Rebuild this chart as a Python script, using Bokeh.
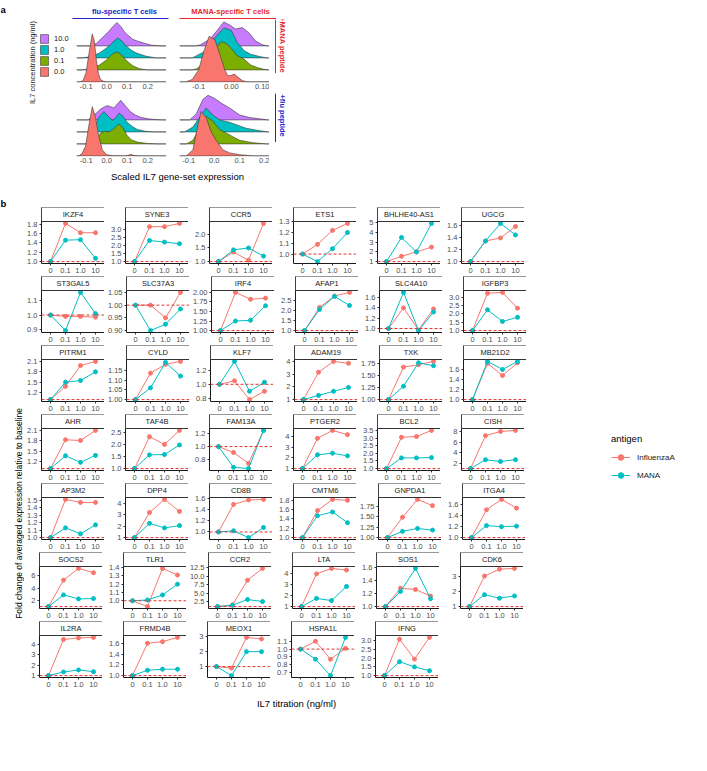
import numpy as np
from bokeh.plotting import figure
from bokeh.layouts import row, column
from bokeh.models import (Range1d, FixedTicker, BoxAnnotation, Span, Legend,
                          LegendItem, Label, Spacer)
from bokeh.embed import file_html
from bokeh.resources import INLINE
from bokeh.core.properties import value

FONT = "Liberation Sans"

# ---------------- panel a data ----------------
il7_levels = ["0.0", "0.1", "1.0", "10.0"]
il7_colors = ["#F8766D", "#7CAE00", "#00BFC4", "#C77CFF"]

# flu-specific T cells, +MANA peptide (x = scaled score, h = density height)
fm_00_x = [-0.13, -0.115, -0.1, -0.085, -0.07, -0.06, -0.05, -0.04, -0.03, -0.015, 0.0]
fm_00_h = [0, 0.1, 0.8, 2.5, 4.0, 3.4, 1.8, 0.7, 0.2, 0.05, 0]
fm_01_x = [-0.12, -0.08, -0.035, -0.003, 0.03, 0.05, 0.07, 0.095, 0.127, 0.16, 0.2]
fm_01_h = [0, 0.1, 0.4, 0.8, 1.35, 1.5, 1.3, 0.8, 0.35, 0.1, 0]
fm_10_x = [-0.12, -0.08, -0.035, 0.013, 0.035, 0.055, 0.075, 0.095, 0.12, 0.143, 0.19, 0.24]
fm_10_h = [0, 0.1, 0.4, 1.0, 1.4, 1.67, 1.4, 1.0, 0.65, 0.42, 0.15, 0]
fm_100_x = [-0.08, -0.05, -0.02, 0.01, 0.03, 0.05, 0.07, 0.09, 0.127, 0.15, 0.19, 0.22, 0.27]
fm_100_h = [0, 0.2, 0.7, 1.2, 1.6, 1.95, 1.6, 1.1, 0.55, 0.4, 0.2, 0.05, 0]

# MANA-specific T cells, +MANA peptide
mm_00_x = [-0.14, -0.12, -0.1, -0.085, -0.068, -0.05, -0.035, -0.02, -0.01, 0.0, 0.01, 0.02, 0.035, 0.05]
mm_00_h = [0, 0.2, 1.0, 2.5, 3.8, 3.5, 2.3, 1.0, 0.5, 0.55, 0.65, 0.4, 0.1, 0]
mm_01_x = [-0.12, -0.105, -0.074, -0.048, -0.031, -0.015, 0.0, 0.018, 0.039, 0.06, 0.08, 0.1, 0.115]
mm_01_h = [0, 0.1, 0.8, 1.8, 2.36, 2.2, 1.8, 1.2, 0.9, 0.4, 0.2, 0.05, 0]
mm_10_x = [-0.12, -0.084, -0.053, -0.023, 0.0, 0.018, 0.04, 0.06, 0.09, 0.11]
mm_10_h = [0, 0.5, 1.6, 2.5, 2.3, 1.3, 0.6, 0.3, 0.1, 0]
mm_100_x = [-0.11, -0.094, -0.064, -0.043, -0.023, -0.002, 0.013, 0.034, 0.054, 0.075, 0.095, 0.112]
mm_100_h = [0, 0.1, 0.6, 1.3, 2.0, 1.7, 1.4, 1.53, 1.1, 0.4, 0.1, 0]

# flu-specific T cells, +flu peptide
ff_00_x = [-0.136, -0.12, -0.103, -0.087, -0.07, -0.054, -0.038, -0.021, 0.0, 0.03, 0.09, 0.105, 0.118, 0.135, 0.16]
ff_00_h = [0, 0.2, 0.8, 2.5, 4.1, 3.2, 1.6, 0.5, 0.1, 0.02, 0, 0.05, 0.12, 0.03, 0]
ff_01_x = [-0.07, -0.05, -0.03, -0.01, 0.01, 0.03, 0.06, 0.08, 0.1, 0.12, 0.15, 0.2, 0.25]
ff_01_h = [0, 0.3, 0.9, 1.05, 1.0, 1.2, 1.66, 1.3, 0.7, 0.35, 0.15, 0.03, 0]
ff_10_x = [-0.085, -0.06, -0.035, -0.013, 0.008, 0.028, 0.045, 0.061, 0.08, 0.1, 0.125, 0.15, 0.19, 0.23]
ff_10_h = [0, 0.4, 1.3, 1.7, 1.3, 0.95, 1.2, 1.57, 1.3, 0.8, 0.45, 0.2, 0.05, 0]
ff_100_x = [-0.09, -0.06, -0.03, 0.003, 0.035, 0.069, 0.09, 0.115, 0.14, 0.17, 0.2, 0.24, 0.27]
ff_100_h = [0, 0.4, 0.9, 1.2, 1.0, 1.63, 1.2, 0.7, 0.4, 0.2, 0.1, 0.03, 0]

# MANA-specific T cells, +flu peptide
mf_00_x = [-0.11, -0.084, -0.065, -0.052, -0.032, -0.012, 0.007, 0.034, 0.06, 0.1, 0.15]
mf_00_h = [0, 0.5, 2.5, 3.7, 3.2, 2.0, 1.3, 0.5, 0.25, 0.1, 0]
mf_01_x = [-0.11, -0.084, -0.058, -0.032, -0.006, 0.021, 0.047, 0.073, 0.1, 0.15, 0.204]
mf_01_h = [0, 0.3, 1.3, 2.3, 1.9, 1.2, 0.9, 0.6, 0.3, 0.1, 0]
mf_10_x = [-0.117, -0.084, -0.058, -0.032, -0.006, 0.021, 0.06, 0.086, 0.125, 0.178, 0.21]
mf_10_h = [0, 0.4, 1.2, 2.0, 1.4, 1.0, 0.8, 0.6, 0.3, 0.1, 0]
mf_100_x = [-0.097, -0.071, -0.045, -0.025, 0.001, 0.027, 0.06, 0.1, 0.139, 0.191, 0.21]
mf_100_h = [0, 0.5, 1.7, 2.05, 1.8, 1.4, 1.0, 0.4, 0.2, 0.05, 0]

ridge_ticks_a = [-0.1, 0.0, 0.1, 0.2]
ridge_labels_a = ["-0.1", "0.0", "0.1", "0.2"]
ridge_ticks_b = [-0.1, 0.0, 0.1]
ridge_labels_b = ["-0.1", "0.00", "0.10"]

# ---------------- panel b data ----------------
x_levels = ["0", "0.1", "1.0", "10"]
antigens = ["InfluenzaA", "MANA"]
antigen_colors = ["#F8766D", "#00BFC4"]

genes = ["IKZF4", "SYNE3", "CCR5", "ETS1", "BHLHE40-AS1", "UGCG",
         "ST3GAL5", "SLC37A3", "IRF4", "AFAP1", "SLC4A10", "IGFBP3",
         "PITRM1", "CYLD", "KLF7", "ADAM19", "TXK", "MB21D2",
         "AHR", "TAF4B", "FAM13A", "PTGER2", "BCL2", "CISH",
         "AP3M2", "DPP4", "CD8B", "CMTM6", "GNPDA1", "ITGA4",
         "SOCS2", "TLR1", "CCR2", "LTA", "SOS1", "CDK6",
         "IL2RA", "FRMD4B", "MEOX1", "HSPA1L", "IFNG"]

influenza = [
    [1.0, 1.82, 1.62, 1.62], [1.0, 3.15, 3.15, 3.35], [1.0, 1.35, 1.05, 2.4],
    [1.0, 1.09, 1.22, 1.285], [1.0, 1.55, 2.0, 2.5], [1.0, 1.34, 1.39, 1.58],
    [1.0, 0.99, 0.99, 0.985], [1.0, 1.0, 0.95, 1.05], [1.0, 2.0, 1.82, 1.85],
    [1.0, 2.15, 2.72, 2.9], [1.0, 1.4, 0.97, 1.38], [1.0, 3.25, 3.3, 2.35],
    [1.0, 1.38, 1.98, 2.1], [1.0, 1.135, 1.18, 1.195], [1.0, 1.05, 0.78, 0.9],
    [1.0, 3.15, 4.0, 3.85], [1.0, 1.68, 1.73, 1.8], [1.0, 1.72, 1.48, 1.73],
    [1.0, 1.83, 1.81, 2.1], [1.0, 2.32, 2.0, 2.58], [1.0, 0.91, 0.74, 1.25],
    [1.0, 3.85, 4.6, 4.2], [1.0, 3.05, 3.1, 3.5], [1.0, 7.3, 8.1, 8.3],
    [1.0, 1.51, 1.47, 1.47], [1.0, 3.2, 4.35, 3.3], [1.0, 1.49, 1.57, 1.58],
    [1.0, 1.58, 1.82, 1.8], [1.0, 1.49, 1.92, 1.77], [1.0, 1.51, 1.7, 1.54],
    [1.0, 5.3, 7.2, 6.5], [1.0, 0.93, 1.39, 1.31], [1.0, 1.5, 8.8, 12.3],
    [1.0, 4.0, 4.5, 4.35], [1.0, 1.28, 1.26, 1.16], [1.0, 3.0, 3.45, 3.5],
    [1.0, 4.5, 4.65, 4.7], [1.0, 1.61, 1.64, 1.72], [1.0, 0.9, 2.95, 2.85],
    [1.0, 1.1, 0.87, 1.01], [1.0, 3.1, 1.95, 3.2],
]

mana = [
    [1.0, 1.46, 1.47, 1.07], [1.0, 2.3, 2.2, 2.1], [1.0, 1.43, 1.5, 1.2],
    [1.0, 0.93, 1.05, 1.2], [1.0, 3.5, 2.0, 4.95], [1.0, 1.34, 1.63, 1.44],
    [1.0, 0.89, 1.16, 1.01], [1.0, 0.9, 0.925, 0.985], [1.0, 1.25, 1.27, 1.65],
    [1.0, 2.05, 2.7, 2.25], [1.0, 1.7, 0.96, 1.32], [1.0, 2.25, 1.55, 1.8],
    [1.0, 1.5, 1.55, 1.8], [1.0, 1.06, 1.19, 1.12], [1.0, 1.33, 0.9, 1.03],
    [1.0, 1.33, 1.65, 1.95], [1.0, 1.28, 1.77, 1.71], [1.0, 1.76, 1.6, 1.76],
    [1.0, 1.37, 1.18, 1.38], [1.0, 1.57, 1.58, 1.98], [1.0, 0.68, 0.66, 1.25],
    [1.0, 2.3, 2.45, 2.2], [1.0, 1.7, 1.7, 1.72], [1.0, 2.7, 2.35, 2.7],
    [1.0, 1.13, 1.05, 1.17], [1.0, 2.25, 1.85, 2.05], [1.0, 1.02, 0.9, 1.08],
    [1.0, 1.47, 1.55, 1.32], [1.0, 1.15, 1.22, 1.18], [1.0, 1.22, 1.2, 1.21],
    [1.0, 2.9, 2.25, 2.3], [1.0, 1.01, 1.07, 1.2], [1.0, 1.4, 3.1, 2.5],
    [1.0, 1.75, 1.55, 2.85], [1.0, 1.23, 1.58, 1.12], [1.0, 1.78, 1.55, 1.7],
    [1.0, 1.35, 1.55, 1.38], [1.0, 1.1, 1.12, 1.12], [1.0, 0.4, 2.0, 2.0],
    [1.0, 0.87, 0.66, 1.15], [1.0, 1.8, 1.5, 1.28],
]

y_breaks = [
    "1.0 1.2 1.4 1.6 1.8", "1.0 1.5 2.0 2.5 3.0", "1.0 1.5 2.0",
    "1.0 1.1 1.2 1.3", "1 2 3 4 5", "1.0 1.2 1.4 1.6",
    "0.9 1.0 1.1", "0.90 0.95 1.00 1.05", "1.00 1.25 1.50 1.75 2.00",
    "1.0 1.5 2.0 2.5 3.0", "1.0 1.2 1.4 1.6", "1.0 1.5 2.0 2.5 3.0",
    "1.2 1.5 1.8 2.1", "1.00 1.05 1.10 1.15", "0.8 1.0 1.2",
    "1 2 3 4", "1.00 1.25 1.50 1.75", "1.0 1.2 1.4 1.6 1.8",
    "1.2 1.5 1.8 2.1", "1.0 1.5 2.0 2.5", "0.8 1.0 1.2",
    "1 2 3 4", "1.0 1.5 2.0 2.5 3.0 3.5", "2 4 6 8",
    "1.0 1.1 1.2 1.3 1.4 1.5", "1 2 3 4", "1.0 1.2 1.4 1.6",
    "1.0 1.2 1.4 1.6 1.8", "1.00 1.25 1.50 1.75", "1.0 1.2 1.4 1.6",
    "2 4 6", "1.0 1.1 1.2 1.3 1.4", "2.5 5.0 7.5 10.0 12.5",
    "1 2 3 4", "1.0 1.2 1.4 1.6", "1 2 3",
    "1 2 3 4", "1.0 1.2 1.4 1.6", "1 2 3",
    "0.7 0.8 0.9 1.0 1.1", "1.0 1.5 2.0 2.5 3.0",
]

baseline_fold = 1.0

# ---------------- helpers ----------------
TXT = "#1A1A1A"
TICKTXT = "#4D4D4D"


def deco(w, h):
    p = figure(width=w, height=h, x_range=Range1d(0, w), y_range=Range1d(0, h),
               x_axis_type=None, y_axis_type=None, min_border=0,
               toolbar_location=None, output_backend="svg")
    p.grid.visible = False
    p.outline_line_color = None
    return p


def put_text(p, x, y, s, size, color=TXT, bold=False, align="center", angle=0.0):
    p.text(x=[x], y=[y], text=[s], text_font=value(FONT), text_font_size=size,
           text_color=color, text_align=align, text_baseline="middle", angle=angle,
           text_font_style="bold" if bold else "normal")


RIDGE_FH = 63


def ridge_fig(xr, fw, left, ticks, labels, ridges):
    p = figure(frame_width=fw, frame_height=RIDGE_FH, x_range=Range1d(*xr),
               y_range=Range1d(-0.05, 5.2), y_axis_type=None,
               min_border_left=left, min_border_right=0, min_border_top=0,
               min_border_bottom=11, toolbar_location=None, output_backend="svg")
    p.grid.visible = False
    p.outline_line_color = None
    p.xaxis.ticker = FixedTicker(ticks=ticks)
    p.xaxis.major_label_overrides = {t: l for t, l in zip(ticks, labels)}
    p.xaxis.axis_line_color = None
    p.xaxis.major_tick_line_color = None
    p.xaxis.minor_tick_line_color = None
    p.xaxis.major_tick_out = 0
    p.xaxis.major_label_standoff = 1
    p.xaxis.major_label_text_font = FONT
    p.xaxis.major_label_text_font_size = "7.5px"
    p.xaxis.major_label_text_color = TICKTXT
    for k in reversed(range(len(ridges))):
        xs, hs = ridges[k]
        px = [xr[0]] + list(xs) + [xr[1]]
        py = [k] + [k + h for h in hs] + [k]
        p.patch(px, py, fill_color=il7_colors[k], fill_alpha=1.0,
                line_color="#3A3A3A", line_width=0.6)
    return p


# ---------------- panel a ----------------
XR_TL = (-0.147, 0.292)
XR_TR = (-0.159, 0.1175)
XR_BR = (-0.1365, 0.2165)

tl = ridge_fig(XR_TL, 90, 0, ridge_ticks_a, ridge_labels_a,
               [(fm_00_x, fm_00_h), (fm_01_x, fm_01_h), (fm_10_x, fm_10_h), (fm_100_x, fm_100_h)])
tr = ridge_fig(XR_TR, 90, 13, ridge_ticks_b, ridge_labels_b,
               [(mm_00_x, mm_00_h), (mm_01_x, mm_01_h), (mm_10_x, mm_10_h), (mm_100_x, mm_100_h)])
bl = ridge_fig(XR_TL, 90, 0, ridge_ticks_a, ridge_labels_a,
               [(ff_00_x, ff_00_h), (ff_01_x, ff_01_h), (ff_10_x, ff_10_h), (ff_100_x, ff_100_h)])
br = ridge_fig(XR_BR, 90, 13, ridge_ticks_a, ridge_labels_a,
               [(mf_00_x, mf_00_h), (mf_01_x, mf_01_h), (mf_10_x, mf_10_h), (mf_100_x, mf_100_h)])

BLUE = "#2222CC"
REDH = "#E8262B"
LEFT_A_W = 76
DX = LEFT_A_W - 69
PA_W = LEFT_A_W + 90 + 103 + 20
ROW_A_H = RIDGE_FH + 11
HEAD_H = 19

header = deco(PA_W, HEAD_H)
put_text(header, 0, HEAD_H - 9, "a", "9.5px", bold=True, align="left", color="#000000")
put_text(header, 117 + DX, HEAD_H - 11, "flu-specific T cells", "7.5px", color=BLUE, bold=True)
put_text(header, 223 + DX, HEAD_H - 11, "MANA-specific T cells", "7.5px", color=REDH, bold=True)
header.segment(x0=[65 + DX, 172 + DX], y0=[1, 1], x1=[161 + DX, 268.5 + DX], y1=[1, 1],
               line_color=[BLUE, REDH], line_width=1)

side_t = deco(20, ROW_A_H)
side_t.segment(x0=[6], y0=[ROW_A_H], x1=[6], y1=[ROW_A_H - RIDGE_FH],
               line_color=REDH, line_width=1)
put_text(side_t, 12.5, ROW_A_H - 30, "+MANA peptide", "7.5px", color=REDH, bold=True,
         angle=-np.pi / 2)
side_b = deco(20, ROW_A_H)
side_b.segment(x0=[6], y0=[ROW_A_H], x1=[6], y1=[ROW_A_H - RIDGE_FH + 6],
               line_color=BLUE, line_width=1)
put_text(side_b, 12.5, ROW_A_H - 26, "+flu peptide", "7.5px", color=BLUE, bold=True,
         angle=-np.pi / 2)

LEFT_A_H = 2 * ROW_A_H
left_a = deco(LEFT_A_W, LEFT_A_H)
put_text(left_a, 25 + DX, LEFT_A_H - 43, "IL7 concentration (ng/ml)", "7.5px", angle=np.pi / 2)
items_a = []
for lvl, colr in reversed(list(zip(il7_levels, il7_colors))):
    r = left_a.patch([np.nan], [np.nan], fill_color=colr, line_color="#3A3A3A", line_width=0.6)
    items_a.append(LegendItem(label=lvl, renderers=[r]))
leg_a = Legend(items=items_a, location=(32 + DX, LEFT_A_H - 58), padding=0, margin=0, spacing=0,
               glyph_width=10, glyph_height=11, label_height=11, label_standoff=5,
               label_text_font=FONT, label_text_font_size="7.5px", label_text_color=TXT,
               border_line_color=None, background_fill_alpha=0)
left_a.add_layout(leg_a)

XT_A_H = 16
xtitle_a = deco(PA_W, XT_A_H)
put_text(xtitle_a, 170 + DX, XT_A_H - 9, "Scaled IL7 gene-set expression", "9.5px", color="#000000")

panel_a = column(header,
                 row(left_a, column(row(tl, tr, side_t), row(bl, br, side_b))),
                 xtitle_a)
PA_H = HEAD_H + LEFT_A_H + XT_A_H

# ---------------- panel b ----------------
STRIP_H = 14
DATA_H = 42
FW = 63
NCOL = 6
B0 = 15      # left border of first column
BC = 21      # left border of other columns
YT_W = 24
GAP_TOP = 207 - PA_H
BOT = 13
BOT_LAST = 15
XT_H = 20


def gene_fig(i, col, last):
    fv, mv = influenza[i], mana[i]
    allv = list(fv) + list(mv) + [baseline_fold]
    lo, hi = min(allv), max(allv)
    pad = 0.05 * (hi - lo)
    lo, hi = lo - pad, hi + pad
    top = hi + (hi - lo) * STRIP_H / DATA_H
    p = figure(frame_width=FW, frame_height=STRIP_H + DATA_H,
               x_range=Range1d(-0.6, len(x_levels) - 1 + 0.6), y_range=Range1d(lo, top),
               min_border_left=B0 if col == 0 else BC, min_border_right=0,
               min_border_top=0, min_border_bottom=BOT_LAST if last else BOT,
               toolbar_location=None, output_backend="svg")
    p.grid.visible = False
    p.outline_line_color = None
    xs = list(range(len(x_levels)))
    p.add_layout(Span(location=baseline_fold, dimension="width", line_color="#E3342F",
                      line_dash="3 2", line_width=1))
    for vals, colr in zip((fv, mv), antigen_colors):
        p.line(xs, vals, line_color=colr, line_width=1)
        p.scatter(xs, vals, size=4, fill_color=colr, line_color=colr)
    # strip
    p.add_layout(BoxAnnotation(bottom=hi, fill_color="white", fill_alpha=1.0,
                               line_color="#333333", line_width=1, line_alpha=1.0))
    p.add_layout(Label(x=(len(x_levels) - 1) / 2, y=(hi + top) / 2, text=genes[i],
                       text_align="center", text_baseline="middle", text_font=FONT,
                       text_font_size="7.5px", text_color=TXT))
    # axes
    p.xaxis.ticker = FixedTicker(ticks=xs)
    p.xaxis.major_label_overrides = {x: l for x, l in zip(xs, x_levels)}
    bt = [float(t) for t in y_breaks[i].split()]
    bl_ = y_breaks[i].split()
    keep = [(t, l) for t, l in zip(bt, bl_) if lo <= t <= hi]
    p.yaxis.ticker = FixedTicker(ticks=[t for t, _ in keep])
    p.yaxis.major_label_overrides = {t: l for t, l in keep}
    for ax in (p.xaxis[0], p.yaxis[0]):
        ax.axis_line_color = "#1A1A1A"
        ax.axis_line_width = 1
        ax.major_tick_line_color = "#333333"
        ax.major_tick_out = 2
        ax.major_tick_in = 0
        ax.minor_tick_line_color = None
        ax.major_label_standoff = 2
        ax.major_label_text_font = FONT
        ax.major_label_text_font_size = "7.5px"
        ax.major_label_text_color = TICKTXT
    return p


nrows = (len(genes) + NCOL - 1) // NCOL
rows_b = []
for r in range(nrows):
    figs = []
    for c in range(NCOL):
        i = r * NCOL + c
        if i < len(genes):
            figs.append(gene_fig(i, c, r == nrows - 1))
    rows_b.append(row(*figs))

GRID_W = B0 + FW + (NCOL - 1) * (BC + FW)
PB_H = GAP_TOP + (nrows - 1) * (STRIP_H + DATA_H + BOT) + (STRIP_H + DATA_H + BOT_LAST) + XT_H

ytitle = deco(YT_W, PB_H)
put_text(ytitle, 0, PB_H - (203 - PA_H), "b", "9.5px", bold=True, align="left", color="#000000")
put_text(ytitle, 18, PB_H - (513 - PA_H), "Fold change of averaged expression relative to baseline",
         "8.5px", color="#000000", angle=np.pi / 2)

xtitle_b = deco(GRID_W, XT_H)
put_text(xtitle_b, 272, XT_H - 11, "IL7 titration (ng/ml)", "9.5px", color="#000000")

LEG_W = 691 - YT_W - GRID_W
legend_fig = deco(LEG_W, PB_H)
items_b = []
for lab, colr in zip(antigens, antigen_colors):
    l1 = legend_fig.line([np.nan, np.nan], [np.nan, np.nan], line_color=colr, line_width=1)
    s1 = legend_fig.scatter([np.nan], [np.nan], size=4, fill_color=colr, line_color=colr)
    items_b.append(LegendItem(label=lab, renderers=[l1, s1]))
leg_top = 438 - PA_H - 6
leg_b = Legend(items=items_b, location=(85, PB_H - leg_top - 50), title="antigen",
               padding=0, margin=0, spacing=4, glyph_width=19, glyph_height=14,
               label_height=14, label_standoff=7, title_standoff=6,
               title_text_font=FONT, title_text_font_size="9.5px", title_text_color="#000000",
               title_text_font_style="normal",
               label_text_font=FONT, label_text_font_size="8px", label_text_color=TXT,
               border_line_color=None, background_fill_alpha=0)
legend_fig.add_layout(leg_b)

panel_b = row(ytitle, column(Spacer(width=GRID_W, height=GAP_TOP), *rows_b, xtitle_b), legend_fig)

layout = column(panel_a, panel_b)

with open("out.html", "w") as f:
    f.write(file_html(layout, INLINE))
